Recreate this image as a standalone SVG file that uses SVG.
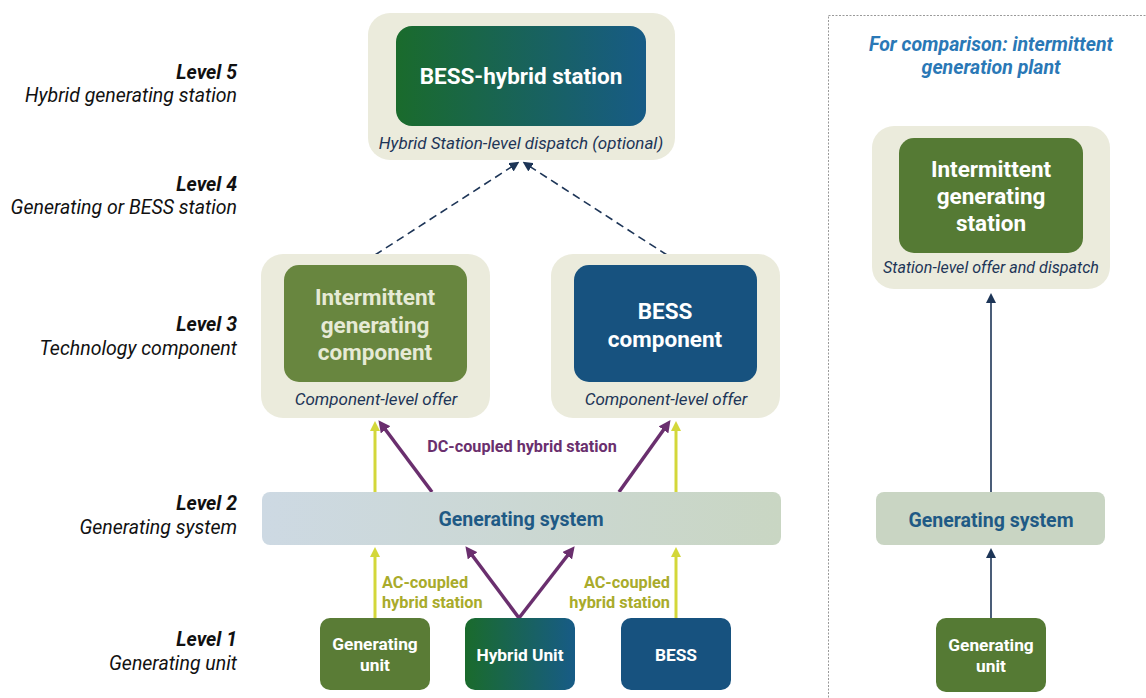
<svg xmlns="http://www.w3.org/2000/svg" width="1146" height="698" viewBox="0 0 1146 698">
<style>
text{font-family:Roboto,"Liberation Sans",sans-serif}
.lvl{font-size:19.5px;font-weight:bold;font-style:italic;fill:#111;text-anchor:end}
.lvd{font-size:19.5px;font-style:italic;fill:#111;text-anchor:end}
.outer{fill:#ebebdc}
.cap{font-size:17px;font-style:italic;fill:#1d3557;text-anchor:middle}
.bt{font-size:22.5px;font-weight:bold;fill:#fff;text-anchor:middle}
.bt2{font-size:22.5px;font-weight:bold;fill:#e6ead6;text-anchor:middle}
.st{font-size:17.3px;font-weight:bold;fill:#fff;text-anchor:middle}
.gs{font-size:19.5px;font-weight:bold;fill:#1f5a85;text-anchor:middle}
.yel{stroke:#d3d73a;stroke-width:3;fill:none}
.pur{stroke:#6a2f6e;stroke-width:3.5;fill:none}
.nav{stroke:#1d3557;stroke-width:1.6;fill:none}
.ac{font-size:16.3px;font-weight:bold;fill:#a9ab2b}
</style>
<defs>
<linearGradient id="gHy" x1="0" y1="0" x2="1" y2="0"><stop offset="0" stop-color="#1a6b2c"/><stop offset="1" stop-color="#175b86"/></linearGradient>
<linearGradient id="gGs" x1="0" y1="0" x2="1" y2="0"><stop offset="0" stop-color="#cdd9e3"/><stop offset="1" stop-color="#c9d6c3"/></linearGradient>
<marker id="mY" markerWidth="10" markerHeight="10" refX="5" refY="5" orient="auto" markerUnits="userSpaceOnUse"><path d="M0,0 L10,5 L0,10 z" fill="#d3d73a"/></marker>
<marker id="mP" markerWidth="12" markerHeight="12" refX="6" refY="6" orient="auto" markerUnits="userSpaceOnUse"><path d="M0,0 L12,6 L0,12 z" fill="#6a2f6e"/></marker>
<marker id="mN" markerWidth="10" markerHeight="10" refX="6" refY="5" orient="auto" markerUnits="userSpaceOnUse"><path d="M0,0 L10,5 L0,10 z" fill="#1d3557"/></marker>
</defs>
<rect width="1146" height="698" fill="#fff"/>

<g id="levels">
<text class="lvl" x="237" y="79">Level 5</text><text class="lvd" x="237" y="102">Hybrid generating station</text>
<text class="lvl" x="237" y="191">Level 4</text><text class="lvd" x="237" y="214">Generating or BESS station</text>
<text class="lvl" x="237" y="331">Level 3</text><text class="lvd" x="237" y="355">Technology component</text>
<text class="lvl" x="237" y="510">Level 2</text><text class="lvd" x="237" y="534">Generating system</text>
<text class="lvl" x="237" y="646">Level 1</text><text class="lvd" x="237" y="670">Generating unit</text>
</g>

<rect id="comparison-panel" x="828.5" y="15.5" width="330" height="690" fill="none" stroke="#999" stroke-width="1" stroke-dasharray="2,1.5"/>
<g id="comparison-title">
<text x="991" y="51" font-size="19.5" font-weight="bold" font-style="italic" fill="#2a78b6" text-anchor="middle">For comparison: intermittent</text>
<text x="991" y="74" font-size="19.5" font-weight="bold" font-style="italic" fill="#2a78b6" text-anchor="middle">generation plant</text>
</g>

<g id="connectors">
<line class="nav" x1="375" y1="255" x2="516" y2="164" stroke-dasharray="8,5" marker-end="url(#mN)"/>
<line class="nav" x1="667" y1="255" x2="526" y2="164" stroke-dasharray="8,5" marker-end="url(#mN)"/>
<line class="yel" x1="375" y1="492" x2="375" y2="426" marker-end="url(#mY)"/>
<line class="yel" x1="676" y1="492" x2="676" y2="426" marker-end="url(#mY)"/>
<line class="pur" x1="432" y1="492" x2="382" y2="425" marker-end="url(#mP)"/>
<line class="pur" x1="619" y1="492" x2="667" y2="425" marker-end="url(#mP)"/>
<line class="yel" x1="375" y1="618" x2="375" y2="552" marker-end="url(#mY)"/>
<line class="yel" x1="676" y1="618" x2="676" y2="552" marker-end="url(#mY)"/>
<line class="pur" x1="519" y1="618" x2="469" y2="551" marker-end="url(#mP)"/>
<line class="pur" x1="519" y1="618" x2="571" y2="551" marker-end="url(#mP)"/>
<line class="nav" x1="991" y1="492" x2="991" y2="297" marker-end="url(#mN)"/>
<line class="nav" x1="991" y1="618" x2="991" y2="552" marker-end="url(#mN)"/>
<text x="522" y="452" font-size="16.2" font-weight="bold" fill="#6a2f6e" text-anchor="middle">DC-coupled hybrid station</text>
<text class="ac" x="382" y="588">AC-coupled</text><text class="ac" x="382" y="608">hybrid station</text>
<text class="ac" x="670" y="588" text-anchor="end">AC-coupled</text><text class="ac" x="670" y="608" text-anchor="end">hybrid station</text>
</g>

<g id="bess-hybrid-station">
<rect class="outer" x="368" y="13" width="307" height="147" rx="22"/>
<rect x="396" y="26" width="250" height="100" rx="16" fill="url(#gHy)"/>
<text class="bt" x="521" y="84">BESS-hybrid station</text>
<text class="cap" x="521" y="149">Hybrid Station-level dispatch (optional)</text>
</g>

<g id="intermittent-component">
<rect class="outer" x="261" y="254" width="229" height="164" rx="22"/>
<rect x="284" y="265" width="183" height="117" rx="15" fill="#68863f"/>
<text class="bt2" x="375" y="305">Intermittent</text>
<text class="bt2" x="375" y="333">generating</text>
<text class="bt2" x="375" y="360">component</text>
<text class="cap" x="376" y="405">Component-level offer</text>
</g>

<g id="bess-component">
<rect class="outer" x="551" y="254" width="229" height="164" rx="22"/>
<rect x="574" y="265" width="183" height="117" rx="15" fill="#17527f"/>
<text class="bt" x="665" y="319">BESS</text>
<text class="bt" x="665" y="347">component</text>
<text class="cap" x="666" y="405">Component-level offer</text>
</g>

<g id="generating-system">
<rect x="262" y="492" width="519" height="53" rx="8" fill="url(#gGs)"/>
<text class="gs" x="521" y="526">Generating system</text>
</g>

<g id="generating-unit">
<rect x="320" y="618" width="110" height="72" rx="10" fill="#5a7c36"/>
<text class="st" x="375" y="650">Generating</text>
<text class="st" x="375" y="671">unit</text>
</g>
<g id="hybrid-unit">
<rect x="465" y="618" width="110" height="72" rx="10" fill="url(#gHy)"/>
<text class="st" x="520" y="661">Hybrid Unit</text>
</g>
<g id="bess">
<rect x="621" y="618" width="110" height="72" rx="10" fill="#17527f"/>
<text class="st" x="676" y="661">BESS</text>
</g>

<g id="intermittent-station">
<rect class="outer" x="872" y="126" width="238" height="163" rx="22"/>
<rect x="899" y="138" width="184" height="115" rx="15" fill="#557a34"/>
<text class="bt" x="991" y="177">Intermittent</text>
<text class="bt" x="991" y="204">generating</text>
<text class="bt" x="991" y="231">station</text>
<text class="cap" x="991" y="273" style="font-size:16.1px">Station-level offer and dispatch</text>
</g>

<g id="generating-system-2">
<rect x="876" y="492" width="229" height="53" rx="8" fill="#c9d5c3"/>
<text class="gs" x="991" y="527">Generating system</text>
</g>
<g id="generating-unit-2">
<rect x="936" y="618" width="110" height="74" rx="10" fill="#557a34"/>
<text class="st" x="991" y="651">Generating</text>
<text class="st" x="991" y="672">unit</text>
</g>
</svg>
